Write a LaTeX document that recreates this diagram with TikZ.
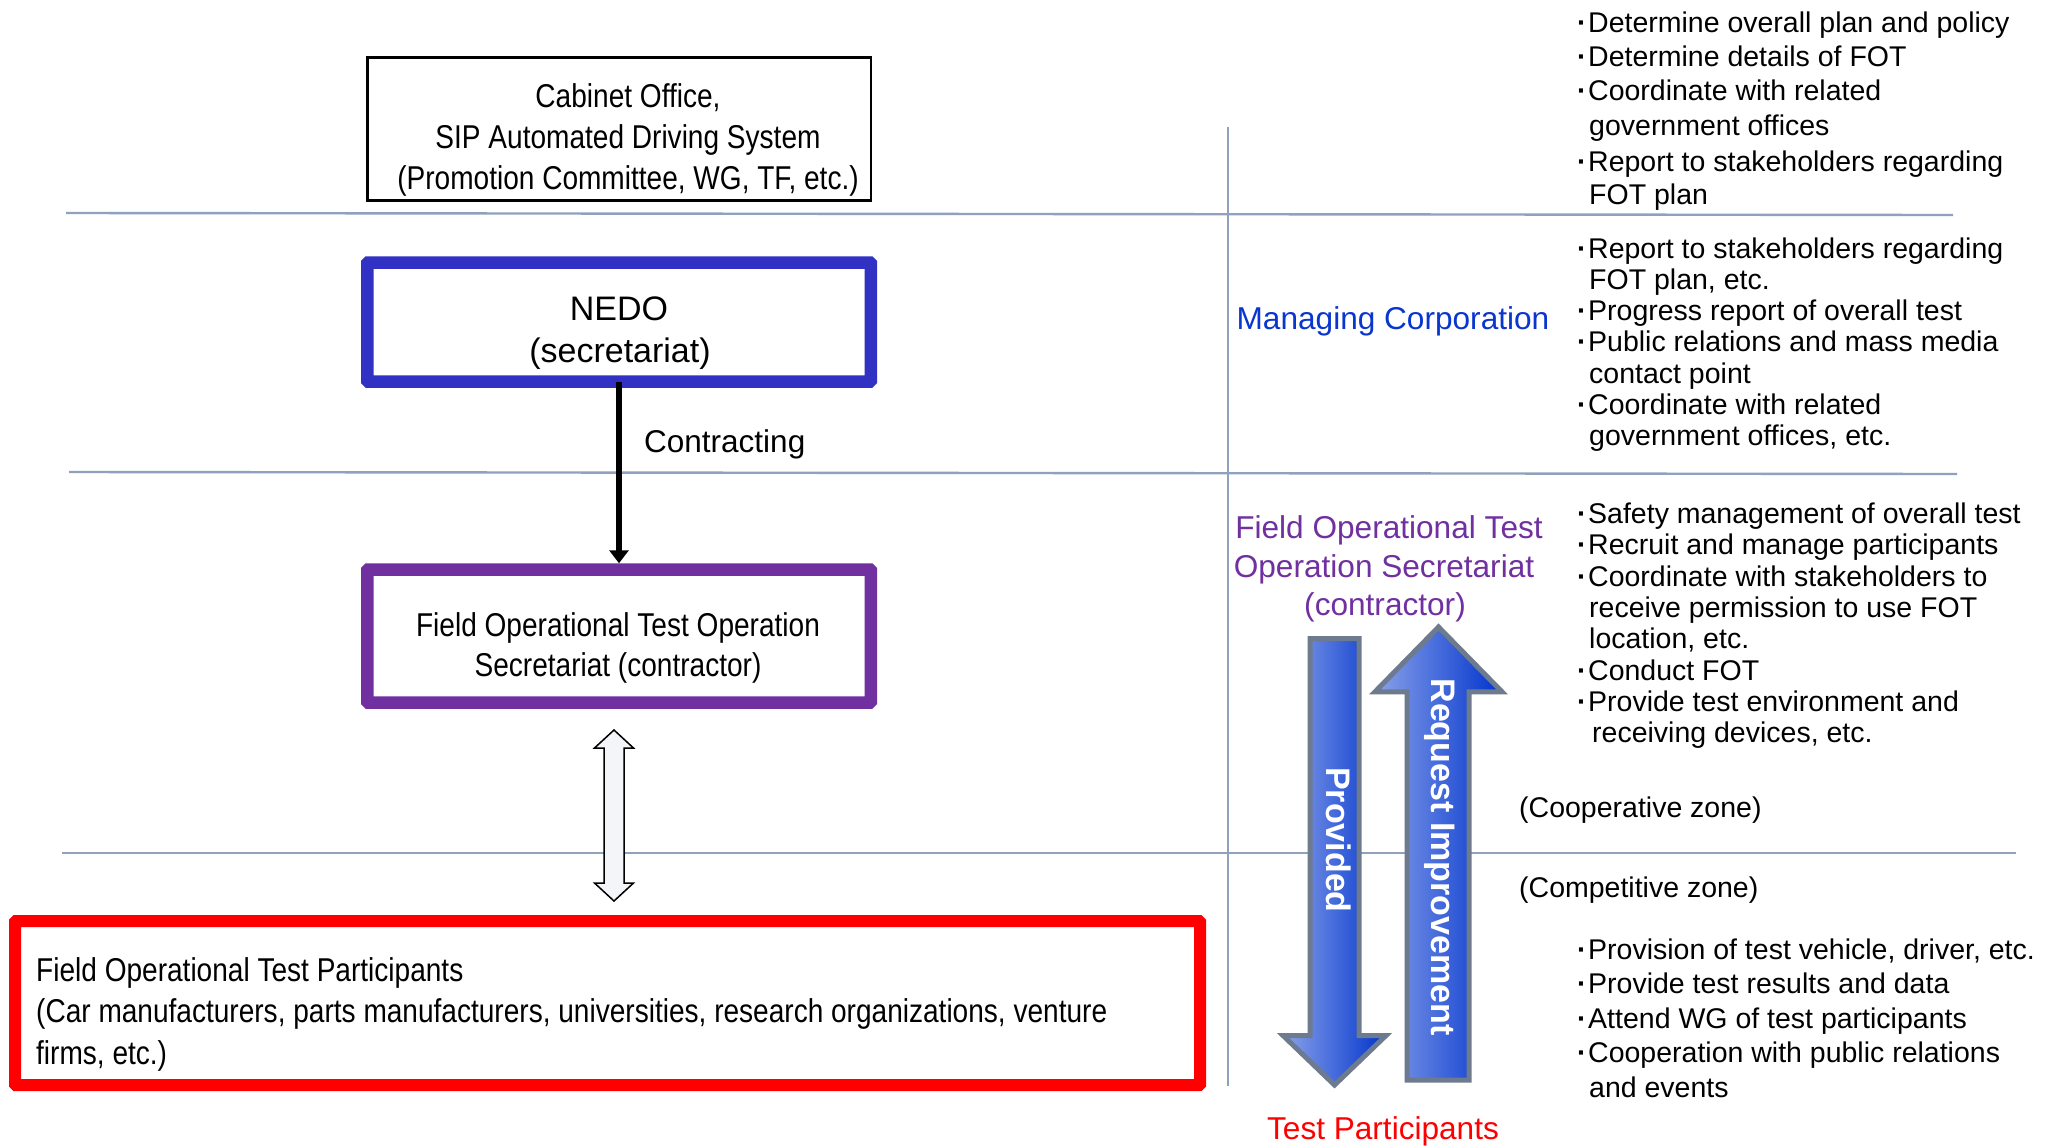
\documentclass[tikz,border=0pt]{standalone}
\usepackage{fontspec}
\setmainfont{Liberation Sans}
\newfontfamily\narrowfont[FakeStretch=0.85]{Liberation Sans}
\usetikzlibrary{arrows.meta}
\definecolor{gridline}{HTML}{8FA1BD}
\definecolor{nedoblue}{HTML}{3131C4}
\definecolor{fotpurple}{HTML}{7030A0}
\definecolor{mgblue}{HTML}{0A36D0}
\definecolor{arrowdark}{HTML}{0033CC}
\definecolor{arrowlight}{HTML}{8AA2EA}
\definecolor{arrowrim}{HTML}{6E7B8E}
\definecolor{hollowfill}{HTML}{F4F5F8}
\definecolor{partred}{HTML}{FF0000}
\tikzset{
  divider/.style={draw=gridline, line width=2.4pt},
  thinbox/.style={draw=black, line width=2.5pt, fill=white, inner sep=0pt},
  thickbox/.style={line width=12.5pt, rounded corners=1pt, fill=white, inner sep=0pt},
  narrowtext/.style={font={\narrowfont\fontsize{33}{41}\selectfont}, inner sep=0pt, anchor=base},
  nedotext/.style={font={\fontsize{34}{41}\selectfont}, inner sep=0pt, anchor=base},
  bul/.style={font={\fontsize{28.5}{34}\selectfont}, inner sep=0pt, anchor=base west},
  sidetitle/.style={font={\fontsize{31.6}{38}\selectfont}, inner sep=0pt, anchor=base},
  arrowtext/.style={font={\bfseries\fontsize{34}{40}\selectfont}, text=white, inner sep=0pt, anchor=base, rotate=-90},
  bigarrow/.style={draw=arrowrim, line width=5pt, line join=miter, left color=arrowlight, middle color=arrowdark, right color=arrowdark},
  hollowarrow/.style={draw=black, line width=1.5pt, fill=hollowfill, line join=miter}
}
\newcommand\bitem[3]{\node[bul] (#1) at (1577,#2) {{\bfseries ·}\kern1.5pt #3};}
\newcommand\bcont[3]{\node[bul] (#1) at (1589,#2) {#3};}
\begin{document}
\begin{tikzpicture}[x=1pt,y=-1pt]
\fill[white] (0,0) rectangle (2058,1146);
\useasboundingbox (0,0) rectangle (2058,1146);

% dividers
\draw[divider] (1228,127) -- (1228,1086);
\draw[divider] (66,213) -- (1953,215);
\draw[divider] (69,472) -- (1957,474);
\draw[divider] (62,853) -- (2016,853);

% boxes
\node[thinbox, minimum width=503.5pt, minimum height=143pt] (cab) at (619,129) {};
\node[thickbox, draw=nedoblue, minimum width=503.5pt, minimum height=119pt] (nedo) at (619,322) {};
\node[thickbox, draw=fotpurple, minimum width=503.5pt, minimum height=133pt] (fot) at (619,636) {};
\node[thickbox, draw=partred, line width=12pt, minimum width=1185pt, minimum height=164pt] (part) at (607.5,1003) {};

% box texts
\node[narrowtext] (cab1) at (628,107.3) {Cabinet Office,};
\node[narrowtext] (cab2) at (628,148.7) {SIP Automated Driving System};
\node[narrowtext] (cab3) at (628,189.4) {(Promotion Committee, WG, TF, etc.)};
\node[nedotext] (nedo1) at (619,320) {NEDO};
\node[nedotext] (nedo2) at (620,362.6) {(secretariat)};
\node[narrowtext] (fot1) at (618,636) {Field Operational Test Operation};
\node[narrowtext] (fot2) at (618,676.5) {Secretariat (contractor)};
\node[narrowtext, anchor=base west] (part1) at (36,981.5) {Field Operational Test Participants};
\node[narrowtext, anchor=base west] (part2) at (36,1022.6) {(Car manufacturers, parts manufacturers, universities, research organizations, venture};
\node[narrowtext, anchor=base west] (part3) at (36,1064) {firms, etc.)};

% contracting arrow
\draw[line width=6pt, -{Triangle[length=13pt,width=19pt]}] ([yshift=6pt]nedo.south) -- (fot.north);
\node[font={\fontsize{31.5}{38}\selectfont}, inner sep=0pt, anchor=base west] (contr) at (644,452) {Contracting};

% hollow double arrow
\draw[hollowarrow] (614,730) -- (633.5,748) -- (624,748) -- (624,883) -- (633.5,883) -- (614,901)
  -- (594.5,883) -- (604,883) -- (604,748) -- (594.5,748) -- cycle;

% big blue arrows
\path[bigarrow] (1310,638.5) -- (1359,638.5) -- (1359,1035.5) -- (1386,1035.5) -- (1334.5,1085)
  -- (1283,1035.5) -- (1310,1035.5) -- cycle;
\path[bigarrow] (1407,1080) -- (1469,1080) -- (1469,691.8) -- (1502,691.8) -- (1438.5,627)
  -- (1375,691.8) -- (1407,691.8) -- cycle;
\node[arrowtext] (prov) at (1326,840) {Provided};
\node[arrowtext] (req) at (1431,857) {Request Improvement};

% middle column titles
\node[sidetitle, text=mgblue] (mc) at (1393,329.3) {Managing Corporation};
\node[sidetitle, text=fotpurple] (fs1) at (1389,538.3) {Field Operational Test};
\node[sidetitle, text=fotpurple] (fs2) at (1384,577) {Operation Secretariat};
\node[sidetitle, text=fotpurple] (fs3) at (1385,615) {(contractor)};
\node[sidetitle, text=partred] (tp) at (1383,1139.3) {Test Participants};
\node[bul] (coop) at (1519,817) {(Cooperative zone)};
\node[bul] (comp) at (1519,897) {(Competitive zone)};

% section 1
\bitem{a1}{32.5}{Determine overall plan and policy}
\bitem{a2}{66.6}{Determine details of FOT}
\bitem{a3}{100.6}{Coordinate with related}
\bcont{a4}{135}{government offices}
\bitem{a5}{171}{Report to stakeholders regarding}
\bcont{a6}{204}{FOT plan}
% section 2
\bitem{b1}{258}{Report to stakeholders regarding}
\bcont{b2}{289.3}{FOT plan, etc.}
\bitem{b3}{320.6}{Progress report of overall test}
\bitem{b4}{351.9}{Public relations and mass media}
\bcont{b5}{383.2}{contact point}
\bitem{b6}{414.5}{Coordinate with related}
\bcont{b7}{445.8}{government offices, etc.}
% section 3
\bitem{c1}{523.5}{Safety management of overall test}
\bitem{c2}{554.8}{Recruit and manage participants}
\bitem{c3}{586.1}{Coordinate with stakeholders to}
\bcont{c4}{617.4}{receive permission to use FOT}
\bcont{c5}{648.7}{location, etc.}
\bitem{c6}{680}{Conduct FOT}
\bitem{c7}{711.3}{Provide test environment and}
\node[bul] (c8) at (1592,742.6) {receiving devices, etc.};
% section 4
\bitem{d1}{959.4}{Provision of test vehicle, driver, etc.}
\bitem{d2}{993.2}{Provide test results and data}
\bitem{d3}{1028.5}{Attend WG of test participants}
\bitem{d4}{1062.3}{Cooperation with public relations}
\bcont{d5}{1097.2}{and events}
\end{tikzpicture}
\end{document}
